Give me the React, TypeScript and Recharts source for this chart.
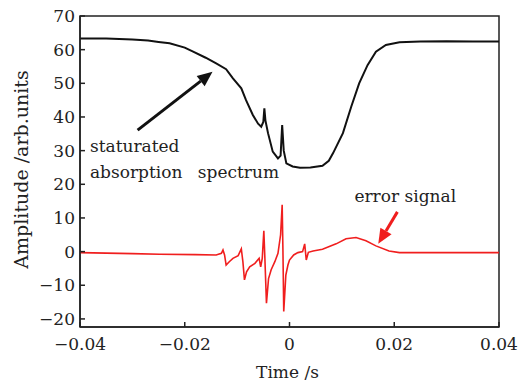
import React from "react";
import {
  LineChart,
  Line,
  XAxis,
  YAxis,
  ReferenceLine,
  ReferenceDot,
  ReferenceArea,
  Label,
} from "recharts";

// saturated absorption spectrum (black)
const absTime = [
  -0.04, -0.035, -0.03, -0.027, -0.025, -0.0229, -0.02, -0.0184, -0.016, -0.014,
  -0.0121, -0.0108, -0.0092, -0.0083, -0.007, -0.006, -0.0054, -0.005, -0.0048,
  -0.0046, -0.0041, -0.0032, -0.0022, -0.0017, -0.0014, -0.0011, -0.0006, 0.0006,
  0.002, 0.004, 0.0063, 0.0075, 0.0083, 0.0102, 0.0118, 0.0133, 0.0149, 0.0165,
  0.0184, 0.021, 0.025, 0.03, 0.035, 0.04,
];
const absAmp = [
  63.3, 63.3, 63.0, 62.7, 62.3, 61.9, 60.6, 59.4, 57.6, 55.9,
  54.2, 51.5, 48.5, 45, 40.6, 38.0, 37.1, 38.5, 42.6,
  39, 35.2, 29.7, 27.7, 28.5, 37.6, 30, 26.2, 25.3,
  24.9, 25.0, 25.5, 27, 29.2, 35.2, 43.1, 50, 55.4, 59.4,
  61.4, 62.2, 62.4, 62.5, 62.4, 62.4,
];

// error signal (red)
const errTime = [
  -0.04, -0.03, -0.0248, -0.018, -0.014, -0.013, -0.0127, -0.0124, -0.0121, -0.0115,
  -0.0108, -0.0098, -0.0092, -0.0089, -0.0086, -0.0082, -0.0076, -0.0066, -0.0058,
  -0.0055, -0.0052, -0.0049, -0.0047, -0.0044, -0.004, -0.0035, -0.0028, -0.0022,
  -0.0017, -0.0014, -0.00125, -0.0011, -0.0007, -0.0003, 0, 0.0008, 0.0016, 0.0025,
  0.0029, 0.0032, 0.0036, 0.0045, 0.0063, 0.0089, 0.0108, 0.0127, 0.0146, 0.0165,
  0.019, 0.021, 0.03, 0.04,
];
const errAmp = [
  -0.3, -0.6, -0.8, -0.9, -1.0, -0.5, 0.5, -1, -4, -3,
  -2, -1.2, 0.8, -3, -8.4, -6, -4.5, -3.5, -2,
  -4.5, -2, 6.2, -2, -15.3, -8, -5.4, -3, -0.5,
  5, 13.9, 0, -17.8, -7, -4, -2.5, -1, -0.3, 0,
  2.3, -2.5, -0.2, 0.2, 0.7, 2.3, 3.8, 4.2, 3.2, 1.7,
  0.2, -0.3, -0.3, -0.3,
];

const xTicks = [-0.04, -0.02, 0, 0.02, 0.04];
const yTicks = [-20, -10, 0, 10, 20, 30, 40, 50, 60, 70];

const absData = absTime.map((t, i) => ({ t, v: absAmp[i] }));
const errData = errTime.map((t, i) => ({ t, v: errAmp[i] }));

const FONT = "DejaVu Serif";
const INK = "#222";
const RED = "#f01e1e";

const fmt = (v: number) => (v < 0 ? "\u2212" + Math.abs(v) : String(v));

const XTick = (p: any) => (
  <g>
    <line x1={p.x} y1={p.y} x2={p.x} y2={p.y - 5} stroke={INK} strokeWidth={1.5} />
    <text x={p.x} y={p.y + 23} textAnchor="middle" fontFamily={FONT} fontSize={17} fill={INK}>
      {fmt(p.payload.value)}
    </text>
  </g>
);

const YTick = (p: any) => (
  <g>
    <line x1={p.x} y1={p.y} x2={p.x + 5} y2={p.y} stroke={INK} strokeWidth={1.5} />
    <text x={p.x - 5} y={p.y + 6} textAnchor="end" fontFamily={FONT} fontSize={17} fill={INK}>
      {fmt(p.payload.value)}
    </text>
  </g>
);

const arrow = (color: string, width: number) => (p: any) => {
  const { x1, y1, x2, y2 } = p;
  const dx = x2 - x1;
  const dy = y2 - y1;
  const len = Math.sqrt(dx * dx + dy * dy) || 1;
  const ux = dx / len;
  const uy = dy / len;
  const hl = 15;
  const hw = 6.5;
  const bx = x2 - ux * hl;
  const by = y2 - uy * hl;
  return (
    <g>
      <line x1={x1} y1={y1} x2={bx} y2={by} stroke={color} strokeWidth={width} />
      <polygon
        points={`${x2},${y2} ${bx - uy * hw},${by + ux * hw} ${bx + uy * hw},${by - ux * hw}`}
        fill={color}
      />
    </g>
  );
};

const note = (text: string, color: string) => (p: any) => (
  <text x={p.cx} y={p.cy} fontFamily={FONT} fontSize={17} fill={color}>
    {text}
  </text>
);

export default function App() {
  return (
    <div style={{ position: "absolute", left: 0, top: 0, background: "#fff" }}>
      <LineChart
        width={524}
        height={382}
        margin={{ top: 16, right: 25, bottom: 25, left: 30 }}
      >
        <XAxis
          type="number"
          dataKey="t"
          domain={[-0.04, 0.04]}
          ticks={xTicks}
          allowDataOverflow
          height={30}
          tickSize={0}
          tickMargin={0}
          tick={XTick}
          stroke={INK}
          strokeWidth={1.5}
        >
          <Label
            content={(p: any) => (
              <text
                x={p.viewBox.x + p.viewBox.width / 2 - 2}
                y={p.viewBox.y + 51}
                textAnchor="middle"
                fontFamily={FONT}
                fontSize={17}
                fill={INK}
              >
                Time /s
              </text>
            )}
          />
        </XAxis>
        <YAxis
          type="number"
          dataKey="v"
          domain={[-22.4, 70]}
          ticks={yTicks}
          allowDataOverflow
          width={50}
          tickSize={0}
          tickMargin={0}
          tick={YTick}
          stroke={INK}
          strokeWidth={1.5}
        >
          <Label
            content={(p: any) => {
              const cx = p.viewBox.x - 9;
              const cy = p.viewBox.y + p.viewBox.height / 2 - 2;
              return (
                <text
                  x={cx}
                  y={cy}
                  transform={`rotate(-90 ${cx} ${cy})`}
                  textAnchor="middle"
                  dominantBaseline="central"
                  fontFamily={FONT}
                  fontSize={19}
                  fill={INK}
                >
                  Amplitude /arb.units
                </text>
              );
            }}
          />
        </YAxis>
        <ReferenceArea
          x1={-0.04}
          x2={0.04}
          y1={-22.4}
          y2={70}
          fill="none"
          stroke={INK}
          strokeWidth={1.5}
        />
        <Line
          data={absData}
          dataKey="v"
          type="linear"
          stroke="#111"
          strokeWidth={2}
          dot={false}
          isAnimationActive={false}
        />
        <Line
          data={errData}
          dataKey="v"
          type="linear"
          stroke={RED}
          strokeWidth={1.6}
          dot={false}
          isAnimationActive={false}
        />
        <ReferenceLine
          segment={[
            { x: -0.029, y: 36.1 },
            { x: -0.0147, y: 53.4 },
          ]}
          shape={arrow("#111", 3)}
        />
        <ReferenceLine
          segment={[
            { x: 0.0206, y: 11.8 },
            { x: 0.01695, y: 2.3 },
          ]}
          shape={arrow(RED, 3)}
        />
        <ReferenceDot x={-0.0381} y={29.7} r={0} shape={note("staturated", INK)} />
        <ReferenceDot x={-0.0381} y={21.9} r={0} shape={note("absorption", INK)} />
        <ReferenceDot x={-0.0175} y={21.9} r={0} shape={note("spectrum", INK)} />
        <ReferenceDot x={0.0124} y={14.85} r={0} shape={note("error signal", INK)} />
      </LineChart>
    </div>
  );
}
